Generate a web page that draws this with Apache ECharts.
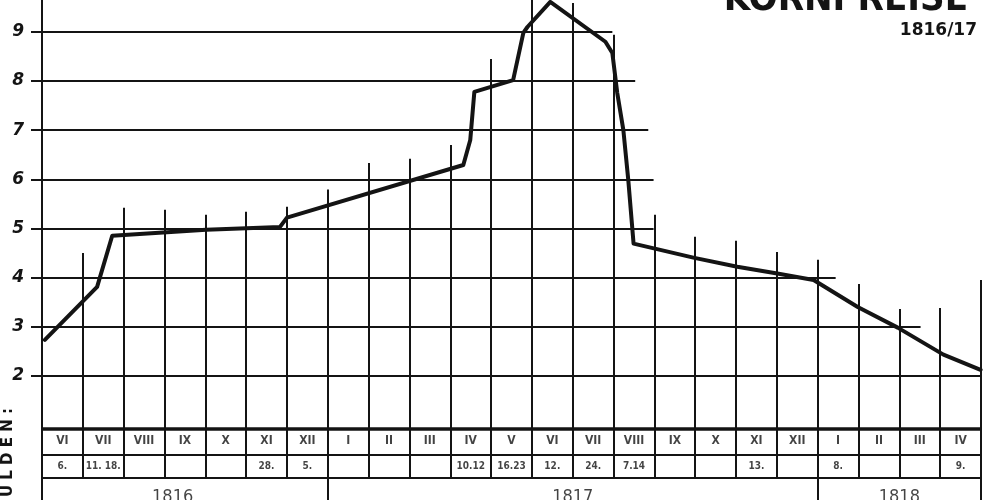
<!DOCTYPE html>
<html>
<head>
<meta charset="utf-8">
<title>Kornpreise 1816/17</title>
<script src="https://cdn.jsdelivr.net/npm/echarts@6/dist/echarts.min.js"></script>
<style>
    html, body { margin: 0; padding: 0; background: #fff; }
    #chartLine { width: 1000px; height: 500px; }
</style>
</head>
<body>
<div id="chartLine"></div>
<script>
// months from VI 1816 to IV 1818, one column each
var months = ['VI', 'VII', 'VIII', 'IX', 'X', 'XI', 'XII',
    'I', 'II', 'III', 'IV', 'V', 'VI', 'VII', 'VIII', 'IX', 'X', 'XI', 'XII',
    'I', 'II', 'III', 'IV'];
var days = ['6.', '11. 18.', '', '', '', '28.', '5.',
    '', '', '', '10.12', '16.23', '12.', '24.', '7.14', '', '', '13.', '',
    '8.', '', '', '9.'];
var years = ['1816', '1817', '1818'];
var yearCenters = [3.2, 13, 21];
var yearBreaks = [7, 19, 23];

// price curve: position in months from start of VI 1816, price in Gulden
var pricePos = [0.07, 1.35, 1.72, 4.02, 5.83, 6.0, 10.32, 10.49, 10.59, 11.54, 11.79, 11.89,
    12.45, 13.8, 13.97, 14.09, 14.24, 14.36, 14.49, 15.98, 17.03, 18.01, 18.9, 19.98,
    20.96, 22.08, 22.99];
var priceGulden = [2.73, 3.81, 4.85, 4.97, 5.03, 5.22, 6.29, 6.8, 7.78, 8.02, 8.98, 9.1,
    9.61, 8.8, 8.57, 7.76, 7.0, 5.99, 4.69, 4.4, 4.22, 4.08, 3.95, 3.4,
    2.98, 2.43, 2.12];

// y ticks and the hand drawn rules (how far each one was drawn)
var yTicks = [2, 3, 4, 5, 6, 7, 8, 9];
var hRuleEnds = [23, 21.52, 19.44, 14.98, 14.98, 14.85, 14.53, 13.97];
var vRuleTops = [4.5, 5.42, 5.38, 5.28, 5.34, 5.44, 5.79, 6.33, 6.42, 6.7, 8.45, 9.65,
    9.59, 8.94, 5.28, 4.83, 4.75, 4.52, 4.36, 3.87, 3.36, 3.38, 3.95];

// table rows, in the same y units as the chart
var yMin = -0.53, yMax = 9.65;
var tableTop = 0.92, dayTop = 0.39, yearTop = -0.08;
var monthRowY = 0.67, dayRowY = 0.16, yearRowY = -0.47;

var ink = '#141414';

var curve = pricePos.map(function (x, i) { return [x, priceGulden[i]]; });

var hRules = yTicks.map(function (v, i) {
    return { coords: [[0, v], [hRuleEnds[i], v]] };
});
var vRules = vRuleTops.map(function (top, i) {
    var x = i + 1;
    var bottom = yearBreaks.indexOf(x) >= 0 ? yMin : yearTop;
    return { coords: [[x, bottom], [x, top]] };
});
var rowRules = [dayTop, yearTop].map(function (v) {
    return { coords: [[0, v], [23, v]] };
});

var monthLabels = months.map(function (m, i) { return { name: m, value: [i + 0.5, monthRowY] }; });
var dayLabels = days.map(function (d, i) { return { name: d, value: [i + 0.5, dayRowY] }; });
var yearLabels = years.map(function (y, i) { return { name: y, value: [yearCenters[i], yearRowY] }; });

function textSeries(data, size, weight) {
    return {
        type: 'scatter',
        data: data,
        symbolSize: 1,
        itemStyle: { color: 'rgba(0,0,0,0)' },
        silent: true,
        label: {
            show: true,
            position: 'inside',
            formatter: '{b}',
            color: ink,
            fontSize: size,
            fontWeight: weight,
            fontFamily: 'DejaVu Sans Condensed, DejaVu Sans'
        }
    };
}

function ruleSeries(data, width) {
    return {
        type: 'lines',
        coordinateSystem: 'cartesian2d',
        data: data,
        silent: true,
        lineStyle: { color: ink, width: width, opacity: 1, curveness: 0 }
    };
}

var chartLine = echarts.init(document.getElementById('chartLine'));
chartLine.setOption({
    animation: false,
    backgroundColor: '#fff',
    grid: { left: 42, right: 19, top: 0, bottom: 0 },
    xAxis: {
        type: 'value',
        min: 0,
        max: 23,
        axisLine: { show: false },
        axisTick: { show: false },
        axisLabel: { show: false },
        splitLine: { show: false }
    },
    yAxis: {
        type: 'value',
        min: yMin,
        max: yMax,
        axisLine: { show: true, lineStyle: { color: ink, width: 2 } },
        axisTick: { show: true, length: 11, customValues: yTicks, lineStyle: { color: ink, width: 2 } },
        axisLabel: {
            customValues: yTicks,
            color: ink,
            fontSize: 17,
            fontStyle: 'italic',
            fontWeight: 'bold',
            fontFamily: 'DejaVu Sans',
            margin: 18
        },
        splitLine: { show: false }
    },
    graphic: [
        {
            type: 'text',
            x: 968,
            y: 19,
            style: {
                text: 'KORNPREISE',
                font: 'bold 38px "DejaVu Sans Condensed"',
                fill: ink,
                textAlign: 'right',
                textVerticalAlign: 'bottom'
            }
        },
        {
            type: 'text',
            x: 977,
            y: 31,
            style: {
                text: '1816/17',
                font: 'bold 17px "DejaVu Sans"',
                fill: ink,
                textAlign: 'right',
                textVerticalAlign: 'middle'
            }
        },
        {
            type: 'text',
            x: 8,
            y: 408,
            rotation: Math.PI / 2,
            style: {
                text: 'G U L D E N :',
                font: 'bold 15px "DejaVu Sans"',
                fill: ink,
                textAlign: 'right',
                textVerticalAlign: 'middle'
            }
        }
    ],
    series: [
        ruleSeries(hRules, 2),
        ruleSeries(vRules, 2),
        ruleSeries(rowRules, 2),
        ruleSeries([{ coords: [[0, tableTop], [23, tableTop]] }], 3.5),
        {
            name: 'Kornpreis',
            type: 'line',
            data: curve,
            symbol: 'none',
            silent: true,
            lineStyle: { color: ink, width: 4, join: 'round', cap: 'round' }
        },
        textSeries(monthLabels, 12, 'bold'),
        textSeries(dayLabels, 10, 'bold'),
        textSeries(yearLabels, 18, 'normal')
    ]
});
</script>
</body>
</html>
